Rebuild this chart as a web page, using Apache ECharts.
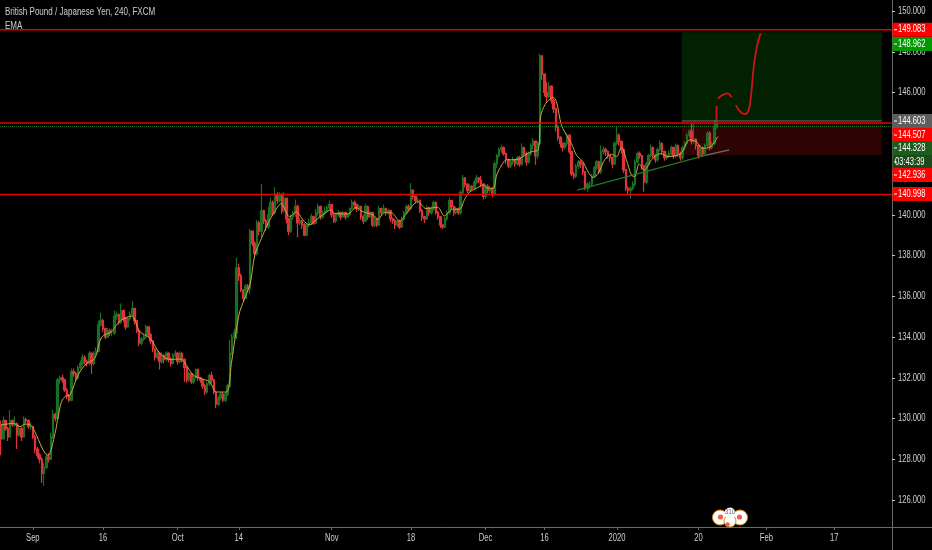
<!DOCTYPE html>
<html><head><meta charset="utf-8">
<style>html,body{margin:0;padding:0;background:#000}#c{width:932px;height:550px}</style>
<script src="https://cdn.jsdelivr.net/npm/echarts@6/dist/echarts.min.js"></script>
</head><body><div id="c"></div>
<script>
const slotCount = 394;
const xTickBars = [14,45,78,105,146,181,214,240,272,308,338,368];
const xTickLabels = ['Sep','16','Oct','14','Nov','18','Dec','16','2020','20','Feb','17'];
const yTicks = [126,128,130,132,134,136,138,140,142,144,146,148,150];

const opens = [129.7,
129.0,129.9,129.5,129.1,129.9,129.7,129.75,129.2,129.5,
129.1,129.95,129.9,129.6,129.6,129.1,128.5,128.2,128.0,127.3,
127.6,128.1,128.0,129.1,130.2,130.0,131.9,132.0,131.9,131.4,
131.1,130.9,132.3,132.2,132.0,132.5,132.7,133.0,132.8,132.7,
133.2,132.7,133.2,133.3,134.6,134.8,134.4,134.0,134.3,134.2,
134.2,135.0,135.1,134.7,135.3,134.9,134.5,134.9,135.1,135.4,
134.8,134.3,133.7,133.9,134.0,134.5,134.1,133.8,133.4,133.0,
133.2,132.8,133.1,132.9,133.2,132.9,132.7,133.1,133.2,132.8,
133.2,132.9,132.5,131.9,132.2,131.8,132.0,132.4,132.0,131.9,
131.6,131.3,131.7,132.1,131.9,131.3,130.7,131.0,131.2,130.9,
131.2,131.6,133.2,134.0,134.2,137.4,137.0,136.3,135.9,136.5,
136.4,139.2,138.6,138.1,139.6,139.2,140.2,139.7,139.4,140.0,
140.6,140.1,141.0,140.7,141.0,140.2,140.8,139.8,139.2,139.9,
140.0,140.4,139.6,139.7,139.5,139.0,139.5,139.6,139.9,139.6,
140.1,140.4,139.9,140.1,140.2,140.35,140.5,140.0,139.7,140.0,
140.1,139.9,140.1,139.9,140.0,140.3,140.6,140.5,140.3,140.4,
139.9,139.7,140.4,139.9,140.1,139.5,139.8,139.5,140.3,140.1,
140.3,140.1,140.2,139.8,139.7,139.5,139.7,139.4,139.8,140.1,
140.4,140.3,141.2,140.9,140.7,140.7,140.2,139.9,139.8,140.35,
140.1,140.3,140.6,140.1,139.9,139.5,139.4,139.8,140.1,140.7,
140.4,140.1,140.3,140.1,141.1,141.8,141.5,141.2,141.4,141.3,
141.6,141.8,141.7,141.5,140.9,141.4,141.2,141.3,141.0,142.5,
142.9,143.2,143.3,143.0,142.7,142.4,142.6,142.7,142.5,142.8,
142.5,143.3,143.0,142.6,143.0,143.4,143.6,142.9,143.5,147.8,
146.9,146.0,145.8,146.3,145.6,145.2,144.3,143.8,143.5,143.3,
143.5,143.9,143.1,142.0,141.9,142.4,142.6,142.5,142.1,141.3,
141.5,141.5,141.9,142.3,142.6,142.1,143.1,143.2,143.1,142.9,
142.8,142.5,143.5,143.9,143.6,143.2,142.2,141.3,141.2,141.3,
141.5,142.6,143.0,142.9,142.4,141.6,142.5,142.9,143.3,142.9,
142.7,143.2,143.5,143.1,142.8,142.9,143.0,143.3,142.9,143.4,
143.0,142.8,143.3,143.5,143.9,144.1,143.6,143.7,143.4,142.9,
143.3,143.0,143.4,144.0,143.3,143.5,144.3];

const closes = [
129.0,129.9,129.5,129.1,129.9,129.7,129.75,129.2,129.5,129.1,
129.95,129.9,129.6,129.6,129.1,128.5,128.2,128.0,127.3,127.6,
128.1,128.0,129.1,130.2,130.0,131.9,132.0,131.9,131.4,131.1,
130.9,132.3,132.2,132.0,132.5,132.7,133.0,132.8,132.7,133.2,
132.7,133.2,133.3,134.6,134.8,134.4,134.0,134.3,134.2,134.2,
135.0,135.1,134.7,135.3,134.9,134.5,134.9,135.1,135.4,134.8,
134.3,133.7,133.9,134.0,134.5,134.1,133.8,133.4,133.0,133.2,
132.8,133.1,132.9,133.2,132.9,132.7,133.1,133.2,132.8,133.2,
132.9,132.5,131.9,132.2,131.8,132.0,132.4,132.0,131.9,131.6,
131.3,131.7,132.1,131.9,131.3,130.7,131.0,131.2,130.9,131.2,
131.6,133.2,134.0,134.2,137.4,137.0,136.3,135.9,136.5,136.4,
139.2,138.6,138.1,139.6,139.2,140.2,139.7,139.4,140.0,140.6,
140.1,141.0,140.7,141.0,140.2,140.8,139.8,139.2,139.9,140.0,
140.4,139.6,139.7,139.5,139.0,139.5,139.6,139.9,139.6,140.1,
140.4,139.9,140.1,140.2,140.35,140.5,140.0,139.7,140.0,140.1,
139.9,140.1,139.9,140.0,140.3,140.6,140.5,140.3,140.4,139.9,
139.7,140.4,139.9,140.1,139.5,139.8,139.5,140.3,140.1,140.3,
140.1,140.2,139.8,139.7,139.5,139.7,139.4,139.8,140.1,140.4,
140.3,141.2,140.9,140.7,140.7,140.2,139.9,139.8,140.35,140.1,
140.3,140.6,140.1,139.9,139.5,139.4,139.8,140.1,140.7,140.4,
140.1,140.3,140.1,141.1,141.8,141.5,141.2,141.4,141.3,141.6,
141.8,141.7,141.5,140.9,141.4,141.2,141.3,141.0,142.5,142.9,
143.2,143.3,143.0,142.7,142.4,142.6,142.7,142.5,142.8,142.5,
143.3,143.0,142.6,143.0,143.4,143.6,142.9,143.5,147.8,146.9,
146.0,145.8,146.3,145.6,145.2,144.3,143.8,143.5,143.3,143.5,
143.9,143.1,142.0,141.9,142.4,142.6,142.5,142.1,141.3,141.5,
141.5,141.9,142.3,142.6,142.1,143.1,143.2,143.1,142.9,142.8,
142.5,143.5,143.9,143.6,143.2,142.2,141.3,141.2,141.3,141.5,
142.6,143.0,142.9,142.4,141.6,142.5,142.9,143.3,142.9,142.7,
143.2,143.5,143.1,142.8,142.9,143.0,143.3,142.9,143.4,143.0,
142.8,143.3,143.5,143.9,144.1,143.6,143.7,143.4,142.9,143.3,
143.0,143.4,144.0,143.3,143.5,144.3,144.5];

const highs = [
129.9,130.1,129.95,129.6,130.4,129.95,130.1,129.8,129.7,129.6,
130.1,130.05,129.95,129.8,129.65,129.2,128.6,128.3,128.1,127.8,
128.3,128.3,129.3,130.4,130.3,132.0,132.1,132.15,131.95,131.5,
131.2,132.45,132.45,132.3,132.6,132.85,133.15,133.1,132.9,133.3,
133.25,133.3,133.5,134.8,135.2,134.9,134.45,134.45,134.4,134.4,
135.3,135.25,135.15,135.65,135.35,135.0,135.0,135.25,135.75,135.45,
134.85,134.35,134.0,134.15,134.6,134.5,134.2,133.85,133.45,133.35,
133.25,133.25,133.15,133.3,133.25,133.0,133.2,133.35,133.25,133.3,
133.25,132.95,132.55,132.3,132.25,132.1,132.45,132.45,132.05,131.95,
131.7,131.8,132.2,132.3,131.95,131.35,131.1,131.3,131.3,131.3,
131.7,133.85,134.15,134.4,137.9,137.6,137.1,136.35,136.6,136.6,
139.3,139.2,138.7,139.75,139.7,141.5,140.25,139.8,140.4,140.85,
140.7,141.35,141.1,141.1,141.05,141.1,140.85,139.85,140.0,140.2,
140.75,140.5,139.85,139.75,139.6,139.6,139.8,140.05,139.95,140.3,
140.55,140.45,140.2,140.4,140.45,140.7,140.5,140.1,140.1,140.25,
140.15,140.2,140.15,140.1,140.35,140.75,140.7,140.55,140.5,140.45,
140.0,140.55,140.45,140.2,140.15,139.9,139.85,140.45,140.35,140.5,
140.35,140.3,140.25,139.85,139.8,139.75,139.75,139.9,140.2,140.5,
140.5,141.55,141.25,140.95,140.85,140.75,140.3,139.95,140.45,140.4,
140.4,140.7,140.65,140.2,139.95,139.5,139.9,140.2,140.85,140.7,
140.45,140.4,140.35,141.2,141.95,141.85,141.55,141.5,141.45,141.7,
141.95,141.85,141.9,141.55,141.5,141.5,141.4,141.35,142.6,143.0,
143.3,143.45,143.35,143.05,142.75,142.7,142.85,142.75,142.9,142.9,
143.5,143.35,143.1,143.1,143.5,143.75,143.65,143.6,147.9,147.7,
146.95,146.5,146.5,146.35,145.7,145.25,144.4,143.85,143.55,143.6,
144.0,143.95,143.15,142.1,142.5,142.7,142.7,142.55,142.15,141.6,
141.65,142.0,142.4,142.7,142.65,143.4,143.35,143.3,143.15,142.95,
142.85,143.6,144.35,144.0,143.65,143.25,142.25,141.4,141.4,141.65,
142.7,143.1,143.1,142.95,142.45,142.6,143.0,143.45,143.35,143.0,
143.3,143.65,143.55,143.15,143.0,143.15,143.4,143.35,143.5,143.45,
143.1,143.4,143.6,144.0,144.2,144.49,144.5,143.75,143.45,143.4,
143.35,143.5,144.1,144.1,143.6,144.65,144.65];

const lows = [
128.2,129.0,129.4,128.9,129.1,129.6,129.6,128.5,129.1,128.9,
129.1,129.75,129.5,129.45,129.0,128.3,128.05,127.8,126.85,126.7,
127.5,127.85,127.95,129.0,129.85,130.0,131.7,131.75,131.3,130.95,
130.8,130.85,132.05,131.85,131.9,132.4,132.6,132.65,132.55,132.6,
132.2,132.6,133.1,133.25,134.5,134.25,133.9,133.95,134.05,134.05,
134.1,134.85,134.6,134.65,134.75,134.35,134.45,134.8,135.0,134.6,
134.2,133.55,133.6,133.8,133.9,134.0,133.65,133.25,132.85,132.9,
132.4,132.7,132.7,132.8,132.75,132.55,132.65,133.0,132.65,132.7,
132.75,131.8,131.75,131.8,131.7,131.7,131.95,131.85,131.75,131.45,
131.15,131.2,131.6,131.75,131.2,130.5,130.6,130.9,130.8,130.8,
131.1,131.5,133.1,133.9,133.9,136.75,136.2,135.75,135.9,136.2,
136.1,138.45,137.9,138.0,139.0,138.9,139.55,139.2,139.3,139.9,
139.95,140.0,140.55,140.6,140.05,140.1,139.6,139.0,139.1,139.75,
139.9,138.9,139.5,139.3,138.95,138.95,139.4,139.5,139.5,139.55,
139.95,139.75,139.8,140.0,140.1,140.25,139.85,139.6,139.6,139.9,
139.75,139.85,139.75,139.85,139.95,140.25,140.3,140.15,140.2,139.75,
139.55,139.65,139.75,139.85,139.4,139.4,139.4,139.45,139.95,140.05,
139.95,140.0,139.65,139.55,139.3,139.4,139.3,139.35,139.7,140.0,
140.15,140.25,140.75,140.55,140.55,140.1,139.7,139.6,139.75,139.95,
140.0,140.2,140.0,139.75,139.35,139.3,139.35,139.7,140.0,140.25,
139.95,140.0,140.0,140.0,141.0,141.35,141.05,141.1,141.15,141.2,
141.5,141.55,141.35,140.75,140.8,141.05,141.05,140.85,140.9,142.3,
142.8,143.05,142.9,142.5,142.3,142.3,142.45,142.35,142.4,142.35,
142.4,142.85,142.4,142.5,142.9,143.2,142.45,142.75,143.4,146.6,
145.8,145.5,145.7,145.45,145.0,144.1,143.65,143.3,143.1,143.2,
143.35,143.0,141.9,141.75,141.8,142.25,142.3,141.95,141.2,141.1,
141.3,141.4,141.8,142.2,142.0,142.0,142.95,142.9,142.75,142.6,
142.3,142.45,143.4,143.4,143.0,142.05,141.15,141.0,140.8,141.2,
141.4,142.5,142.75,142.2,141.13,141.5,142.4,142.8,142.75,142.55,
142.6,143.1,142.95,142.65,142.7,142.8,142.9,142.75,142.8,142.85,
142.65,142.7,143.15,143.4,143.8,143.45,143.5,143.2,142.75,142.85,
142.85,142.9,143.3,143.15,143.2,143.4,144.2];

const emaBars = [0,5.4,8.3,10.5,12.7,14.9,17.9,19.4,20.8,23.8,25.2,26.7,28.5,30.4,34,37.7,41.4,44.4,48.8,51,53.2,57.6,61.3,65.7,70.1,74.5,78.9,84.8,88.5,92.1,95.1,99.5,101.7,105,107.6,110,112,115,118,120.8,123.8,125.2,127.4,130.4,133.3,136.2,139.2,142.1,145.8,147.3,153.1,156.8,159.8,164.2,166.4,169.3,172.3,176,179.6,184,187.7,192.8,195.8,199.4,202.4,204.9,207.1,210,212.9,215.2,217.4,218.9,221.1,223.3,225.5,228.4,231.4,234.3,237.2,238.3,240.2,242.4,243.8,245.3,247.5,250.5,251.9,254.1,257,259.3,261.5,263.7,266.6,269.6,271.8,274,276.2,278.4,279.9,281.8,284.1,287.8,291.4,294.4,298.1,300.3,304,306.9,309.9,313.5,316.5];
const emaValues = [129.68,129.76,129.6,129.72,129.7,129.35,128.6,128.3,128.18,129.27,130.1,130.83,131.1,131.15,132.14,132.7,132.95,134.0,134.26,134.6,134.84,135.03,134.26,133.94,133.2,132.9,132.92,132.14,131.95,131.8,131.3,131.3,132.7,135.08,135.9,136.6,138.0,138.85,139.6,140.15,140.56,140.3,139.9,140.15,139.75,139.5,139.75,140,140.24,140.07,140.04,140.35,140.15,140,139.78,140.1,140.1,139.7,140.15,140.65,140.3,140.37,139.94,140.27,140.27,140.8,141.13,141.3,141.46,141.3,141.3,141.95,142.44,142.7,142.7,142.72,142.93,143.1,143.18,144.82,145.4,145.67,145.77,145.55,144.4,143.75,143.5,142.93,142.6,142.1,141.83,142.03,142.7,142.97,142.85,143.31,142.7,141.95,141.87,142.5,142.2,142.77,143.0,142.85,142.9,143.0,143.67,143.6,143.26,143.34,143.83];

const redLevels = [149.083,144.507,140.998];
const stopLevel = 144.328;
const boxBars = [300.6,389.0];
const boxTop = 148.962, boxEntry = 144.603, boxStop = 142.936;
const trendGreenBars = [254.5,311.4], trendGreenValues = [141.21,142.93];
const trendGreyBars = [311.4,321.6], trendGreyValues = [142.93,143.18];
const penBars = [316,316,null,316.6,318.6,320.8,322.7,null,324.5,326.7,328.6,330.1,331.1,332.6,334,335.5];
const penValues = [144.65,145.35,null,145.7,145.88,145.96,145.76,null,145.38,145.03,144.94,145.11,145.71,147.43,148.33,148.91];

const tagTexts = ['149.083','148.962','144.603','144.507','144.328','03:43:39','142.936','140.998'];
const tagLevels = [149.083,148.38,144.6,143.91,143.28,142.59,141.95,141.02];
const tagColors = ['#ff0000','#009900','#5e5e5e','#ff0000','#1d5c1d','#1d4a1d','#ff0000','#ff0000'];

const FONT = '"Liberation Sans", Arial, sans-serif';
const FS = 10;
const SQUEEZE = 0.76;
const TEXT_COLOR = '#cfcfcf';
const categories = Array.from({length: slotCount}, (_, i) => String(i));
const isTick = i => xTickBars.includes(i);
const candleData = closes.map((c, i) => [opens[i], c, lows[i], highs[i]]);
const xMin = -0.5, xMax = slotCount - 0.5;
const yMin = 124.675, yMax = 150.54;

function flat(name, value, color, type, width) {
  return {name, type: 'line', xAxisIndex: 1, yAxisIndex: 0, symbol: 'none', z: 6, silent: true,
    data: [[xMin, value], [xMax, value]], lineStyle: {color, width, type}};
}
function pairs(xs, ys) { return xs.map((x, i) => [x, ys[i]]); }
function squeezedText(text, x, y, align, fill, z2) {
  return {type: 'text', x, y, scaleX: SQUEEZE, scaleY: 1, z2: z2 || 5,
    style: {text, fill, fontSize: FS, fontFamily: FONT, align, verticalAlign: 'middle'}};
}

const option = {
  backgroundColor: '#000',
  animation: false,
  grid: {left: 0, top: 0, right: 40, bottom: 23, containLabel: false, outerBoundsMode: 'none'},
  xAxis: [
    {type: 'category', data: categories, position: 'bottom', boundaryGap: true,
     axisLine: {lineStyle: {color: '#6a6a6a', width: 1}},
     axisTick: {show: true, interval: i => isTick(i), alignWithLabel: true, length: 3, lineStyle: {color: '#6a6a6a'}},
     axisLabel: {show: false},
     splitLine: {show: false}},
    {type: 'value', min: xMin, max: xMax, show: false, splitLine: {show: false}}
  ],
  yAxis: {
    type: 'value', position: 'right', min: yMin, max: yMax, scale: true,
    axisLine: {show: true, onZero: false, lineStyle: {color: '#6a6a6a', width: 1}},
    axisTick: {show: true, customValues: yTicks, length: 3, lineStyle: {color: '#c8c8c8'}},
    axisLabel: {show: false},
    splitLine: {show: false}
  },
  series: [
    {name: 'Position boxes', type: 'custom', xAxisIndex: 1, z: 1, silent: true,
     data: [[boxBars[0], boxBars[1], boxTop, boxEntry, '#022002'], [boxBars[0], boxBars[1], boxEntry, boxStop, '#2e0303']],
     encode: {x: [0, 1], y: [2, 3]},
     renderItem: (p, api) => {
       const a = api.coord([api.value(0), api.value(2)]), b = api.coord([api.value(1), api.value(3)]);
       return {type: 'rect', shape: {x: a[0], y: a[1], width: b[0] - a[0], height: b[1] - a[1]},
         style: {fill: api.value(4)}};
     }},
    {name: 'GBPJPY', type: 'candlestick', xAxisIndex: 0, z: 3, barWidth: 2, silent: true, data: candleData,
     itemStyle: {color: '#1b6f22', color0: '#e0323a', borderColor: '#1b6f22', borderColor0: '#e0323a', borderWidth: 1.2}},
    {name: 'EMA', type: 'line', xAxisIndex: 1, z: 4, symbol: 'none', smooth: 0.3, silent: true,
     data: pairs(emaBars, emaValues), lineStyle: {color: '#c9a83e', width: 1}},
    {name: 'Trend', type: 'line', xAxisIndex: 1, z: 5, symbol: 'none', silent: true,
     data: pairs(trendGreenBars, trendGreenValues), lineStyle: {color: '#1f7a2a', width: 1.3}},
    {name: 'Trend end', type: 'line', xAxisIndex: 1, z: 5, symbol: 'none', silent: true,
     data: pairs(trendGreyBars, trendGreyValues), lineStyle: {color: '#6f6f6f', width: 1.3}},
    {name: 'Projection', type: 'line', xAxisIndex: 1, z: 5, symbol: 'none', smooth: 0.4, silent: true, connectNulls: false,
     data: pairs(penBars, penValues), lineStyle: {color: '#d01414', width: 1.8}},
    ...redLevels.map((v, i) => flat('Level ' + i, v, '#e60000', 'solid', 1.5)),
    flat('Stop', stopLevel, '#1d7a25', 'dotted', 1),
    {name: 'Entry edge', type: 'line', xAxisIndex: 1, z: 6, symbol: 'none', silent: true,
     data: [[boxBars[0], boxEntry], [boxBars[1], boxEntry]], lineStyle: {color: '#6f6f6f', width: 1}},
    {name: 'Price labels', type: 'custom', xAxisIndex: 1, z: 15, silent: true, clip: false,
     data: yTicks.map(v => [xMax, v]), encode: {x: 0, y: 1},
     renderItem: (p, api) => {
       const c = api.coord([api.value(0), api.value(1)]);
       return squeezedText(api.value(1).toFixed(3), c[0] + 6, c[1], 'left', TEXT_COLOR);
     }},
    {name: 'Date labels', type: 'custom', xAxisIndex: 1, z: 15, silent: true, clip: false,
     data: xTickBars.map((b, i) => [b, yMin, i]), encode: {x: 0, y: 1},
     renderItem: (p, api) => {
       const c = api.coord([api.value(0), api.value(1)]);
       return squeezedText(xTickLabels[api.value(2)], c[0], c[1] + 11, 'center', TEXT_COLOR);
     }},
    {name: 'Tags', type: 'custom', xAxisIndex: 1, z: 20, silent: true, clip: false,
     data: tagLevels.map((v, i) => [xMax, v, i]),
     encode: {x: 0, y: 1},
     renderItem: (p, api) => {
       const c = api.coord([api.value(0), api.value(1)]), i = api.value(2);
       return {type: 'group', children: [
         {type: 'rect', shape: {x: c[0] + 0.5, y: c[1] - 7, width: 40, height: 14}, style: {fill: tagColors[i]}, z2: 20},
         {type: 'rect', shape: {x: c[0] + 2, y: c[1] - 0.5, width: 3, height: 1}, style: {fill: '#fff'}, z2: 21},
         squeezedText(tagTexts[i], c[0] + (i === 5 ? 3 : 6), c[1], 'left', '#fff', 22)
       ]};
     }}
  ],
  graphic: [
    {type: 'text', x: 5, y: 12.5, scaleX: 0.765, z: 50,
     style: {text: 'British Pound / Japanese Yen, 240, FXCM', fill: TEXT_COLOR, fontSize: 10.5, fontFamily: FONT, verticalAlign: 'middle'}},
    {type: 'text', x: 5, y: 26, scaleX: 0.765, z: 50,
     style: {text: 'EMA', fill: TEXT_COLOR, fontSize: 10.5, fontFamily: FONT, verticalAlign: 'middle'}},
    {type: 'line', shape: {x1: 892.5, y1: 527, x2: 892.5, y2: 550}, style: {stroke: '#6a6a6a', lineWidth: 1}, z: 30},
    {type: 'line', shape: {x1: 892, y1: 527.5, x2: 932, y2: 527.5}, style: {stroke: '#6a6a6a', lineWidth: 1}, z: 30},
    {type: 'circle', shape: {cx: 720, cy: 517.5, r: 7.5}, style: {fill: '#fff', stroke: '#d98a20', lineWidth: 1}, z: 40},
    {type: 'circle', shape: {cx: 740, cy: 517.5, r: 7.5}, style: {fill: '#fff', stroke: '#d98a20', lineWidth: 1}, z: 40},
    {type: 'circle', shape: {cx: 730, cy: 521, r: 6}, style: {fill: '#fff', stroke: '#d98a20', lineWidth: 1}, z: 41},
    {type: 'circle', shape: {cx: 730, cy: 513, r: 5.5}, style: {fill: '#fff'}, z: 42},
    {type: 'circle', shape: {cx: 720.5, cy: 517, r: 2.6}, style: {fill: '#f2604a'}, z: 43},
    {type: 'circle', shape: {cx: 739.5, cy: 517, r: 2.6}, style: {fill: '#f2604a'}, z: 43},
    {type: 'circle', shape: {cx: 727.5, cy: 524.5, r: 2.2}, style: {fill: '#f2604a'}, z: 43},
    {type: 'text', x: 730, y: 511.5, scaleX: 0.85, style: {text: '310', fill: '#666', fontSize: 7.5, fontFamily: FONT, align: 'center', verticalAlign: 'middle'}, z: 44}
  ]
};
echarts.init(document.getElementById('c'), null, {renderer: 'canvas'}).setOption(option);
</script></body></html>
